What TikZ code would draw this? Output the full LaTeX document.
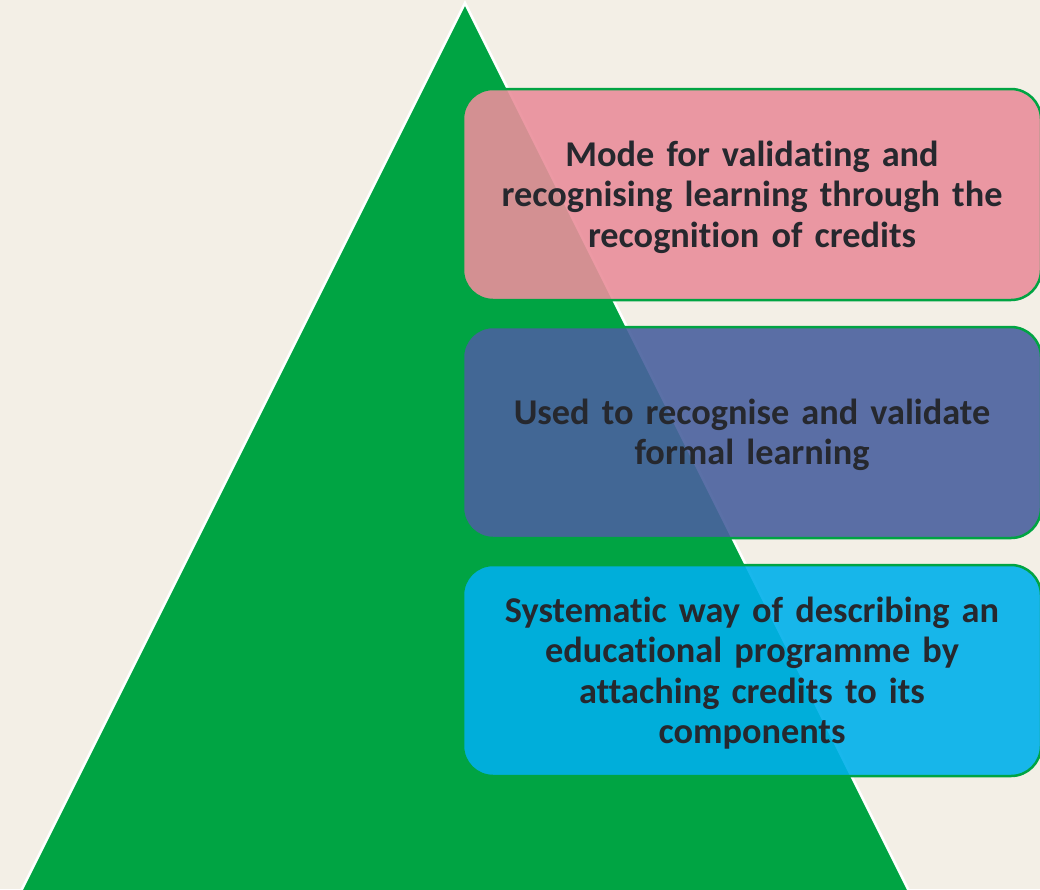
\documentclass[tikz,border=0pt]{standalone}
\usepackage{fontspec}
\setmainfont{Carlito}[Ligatures={NoCommon,NoRare}]
\definecolor{bg}{RGB}{243,239,230}
\definecolor{tri}{RGB}{0,164,67}
\definecolor{pinkbox}{RGB}{234,142,155}
\definecolor{bluebox}{RGB}{74,97,158}
\definecolor{cyanbox}{RGB}{0,176,235}
\definecolor{txt}{RGB}{38,40,46}
\tikzset{
  infobox/.style={draw=tri, line width=2.5pt, rounded corners=30pt, fill opacity=0.9,
    text opacity=1, minimum width=578pt, minimum height=211pt, anchor=north west,
    inner sep=0pt, outer sep=0pt},
  boxtext/.style={text=txt, font=\bfseries\fontsize{36.3}{40.5}\selectfont, align=center,
    text width=600pt, yshift=-2.5pt}
}
\begin{document}
\begin{tikzpicture}[x=1pt,y=-1pt]
\fill[bg] (0,0) rectangle (1040,889);
\useasboundingbox (0,0) rectangle (1040,889);
\begin{scope}
\clip (0,0) rectangle (1040,889);
\filldraw[fill=tri, draw=white, line width=2.5pt, line join=miter] (465,3) -- (913.5,900) -- (16.5,900) -- cycle;
\node[infobox, fill=pinkbox] (b1) at (463,89) {};
\node[infobox, fill=bluebox] (b2) at (463,327) {};
\node[infobox, fill=cyanbox] (b3) at (463,565) {};
\end{scope}
\node[boxtext] (t1) at (b1.center) {Mode for validating and\\recognising learning through the\\recognition of credits};
\node[boxtext] (t2) at (b2.center) {Used to recognise and validate\\formal learning};
\node[boxtext] (t3) at (b3.center) {Systematic way of describing an\\educational programme by\\attaching credits to its\\components};
\end{tikzpicture}
\end{document}
